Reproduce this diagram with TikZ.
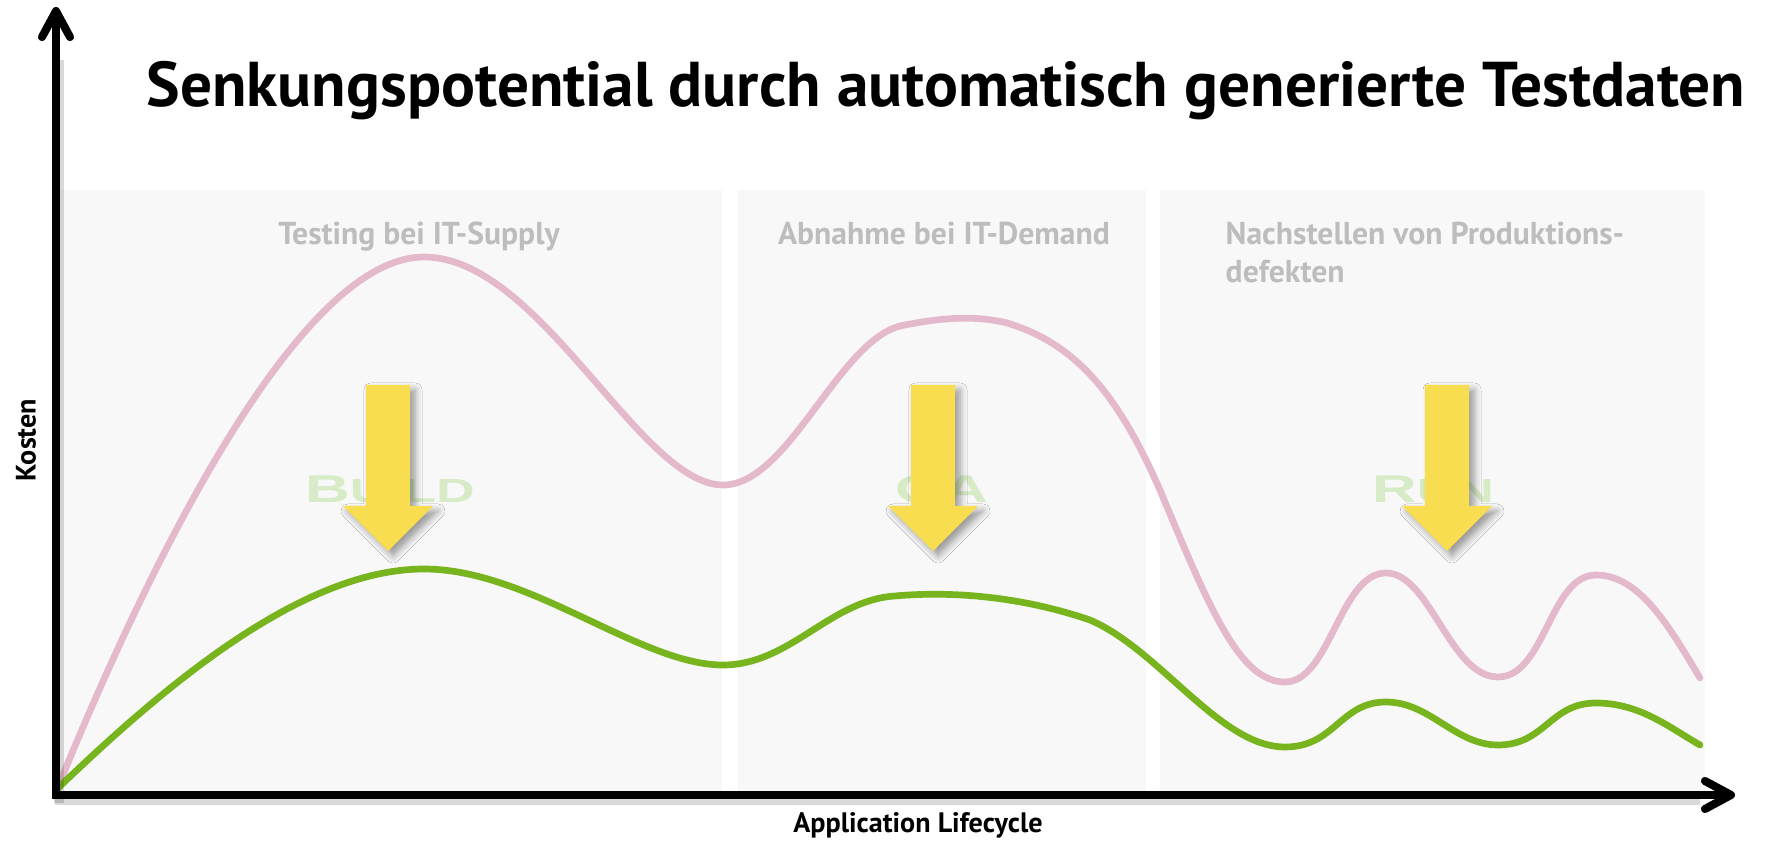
\documentclass[tikz,border=0pt]{standalone}
\usepackage{fontspec}
\setmainfont{PT Sans}
\newfontfamily\phasefont{Liberation Sans}
\usetikzlibrary{arrows.meta,shadows.blur}
\definecolor{panelgray}{HTML}{F8F8F8}
\definecolor{labelgray}{HTML}{BDBDBD}
\definecolor{costpink}{HTML}{E4B9CB}
\definecolor{costgreen}{HTML}{77B41E}
\definecolor{phasegreen}{HTML}{D6EBC6}
\definecolor{arrowyellow}{HTML}{F9DD50}
\begin{document}
\begin{tikzpicture}[x=0.01cm,y=-0.01cm,line join=round,
	panel/.style={fill=panelgray},
	pnl/.style={text=labelgray,font=\fontsize{9}{11}\selectfont\bfseries,inner sep=0pt},
	phase/.style={text=phasegreen,font=\phasefont\bfseries,xscale=1.6,inner sep=0pt,anchor=base},
	curve/.style={line width=1.9pt,line cap=round},
	axis/.style={line width=2.3pt,-{Straight Barb[length=2.6mm,width=2.8mm,line cap=round,line join=round]}},
	downarrow/.style={fill=arrowyellow,blur shadow={shadow xshift=0.05cm,shadow yshift=-0.05cm,shadow blur steps=6}}]
	\useasboundingbox[fill=white] (0,0) rectangle (1778,843);
	% grey phase panels
	\fill[panel] (60,190) rectangle (722,795);
	\fill[panel] (738,190) rectangle (1146,795);
	\fill[panel] (1160,190) rectangle (1705,795);
	\node[pnl,anchor=base] (supply) at (419,245) {Testing bei IT-Supply};
	\node[pnl,anchor=base] (demand) at (944,245) {Abnahme bei IT-Demand};
	\node[pnl,anchor=base west,align=left] (prod) at (1225,283) {Nachstellen von Produktions-\\defekten};
	\node[phase] (build) at (390,503) {{\fontsize{11}{10}\selectfont B}\fontsize{9.5}{9}\selectfont UILD};
	\node[phase] (qa) at (942,503) {\fontsize{11}{10}\selectfont QA};
	\node[phase] (run) at (1433,503) {{\fontsize{11}{10}\selectfont R}\fontsize{9.5}{9}\selectfont UN};
	% costs without generated test data
	\draw[curve,costpink] (56,792) .. controls (150,560) and (300,257) .. (424,257)
		.. controls (540,257) and (640,485) .. (723,485)
		.. controls (790,485) and (840,335) .. (905,325)
		.. controls (940,318) and (975,315) .. (1007,323)
		.. controls (1080,345) and (1120,400) .. (1160,490)
		.. controls (1210,610) and (1240,682) .. (1285,682)
		.. controls (1330,682) and (1340,573) .. (1386,573)
		.. controls (1430,573) and (1450,677) .. (1498,677)
		.. controls (1545,677) and (1550,575) .. (1596,575)
		.. controls (1640,575) and (1670,628) .. (1700,678);
	% costs with generated test data
	\draw[curve,costgreen] (56,790) .. controls (160,690) and (300,569) .. (424,569)
		.. controls (530,569) and (640,665) .. (723,665)
		.. controls (790,665) and (830,600) .. (895,596)
		.. controls (950,591) and (1020,596) .. (1090,620)
		.. controls (1160,650) and (1220,747) .. (1285,747)
		.. controls (1335,747) and (1340,702) .. (1386,702)
		.. controls (1430,702) and (1455,745) .. (1498,745)
		.. controls (1545,745) and (1550,703) .. (1596,703)
		.. controls (1640,703) and (1670,728) .. (1700,745);
	% reduction arrows
	\foreach \cx in {388,933,1447}
		\fill[downarrow] (\cx-22,385) -- (\cx+22,385) -- (\cx+22,506) -- (\cx+45,506) -- (\cx,551) -- (\cx-45,506) -- (\cx-22,506) -- cycle;
	% axes
	\draw[line width=3pt,black,opacity=0.15] (59,803) -- (59,60);
	\draw[line width=3pt,black,opacity=0.15] (55,800) -- (1700,800);
	\coordinate (ytop) at (56,7);
	\coordinate (xend) at (1735,795);
	\draw[axis] (56,799) -- (ytop);
	\draw[axis] (52,795) -- (xend);
	\node[font=\fontsize{8}{9}\selectfont\bfseries,rotate=90] (kosten) at (26,440) {Kosten};
	\node[font=\fontsize{8}{9}\selectfont\bfseries,anchor=base] (lifecycle) at (918,833) {Application Lifecycle};
	\node[font=\fontsize{18}{20}\selectfont\bfseries,anchor=base] (title) at (946,107) {Senkungspotential durch automatisch generierte Testdaten};
\end{tikzpicture}
\end{document}
